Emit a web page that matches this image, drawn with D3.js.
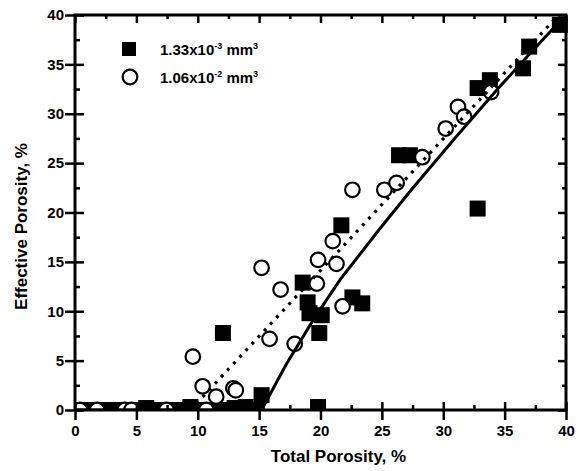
<!DOCTYPE html>
<html>
<head>
<meta charset="utf-8">
<script src="https://cdn.jsdelivr.net/npm/d3@7"></script>
<style>
  body { margin: 0; background: #fff; }
  text { font-family: "Liberation Sans", Arial, sans-serif; font-weight: bold; fill: #000; }
</style>
</head>
<body>
<div id="chart"></div>
<script>
// tick values
var xTicks = [0, 5, 10, 15, 20, 25, 30, 35, 40];
var yTicks = [0, 5, 10, 15, 20, 25, 30, 35, 40];
var minorTicks = [2.5, 7.5, 12.5, 17.5, 22.5, 27.5, 32.5, 37.5];

// 1.33x10^-3 mm^3 (filled squares)
var smallX = [0.4, 1.3, 2.2, 3.1, 4.0, 4.9, 5.8, 6.7, 7.6, 8.5, 9.4, 10.3, 11.2, 12.1, 13.0, 13.9, 14.8,
              15.2, 12.05, 18.55, 18.95, 19.1, 20.1, 19.9, 19.8, 22.6, 23.4, 21.7, 26.4, 27.3, 32.8, 32.8, 33.8, 36.5, 37.0, 39.5];
var smallY = [0, 0, 0, 0, 0, 0, 0.2, 0, 0, 0, 0.3, 0, 0, 0, 0.2, 0.3, 0,
              1.5, 7.8, 12.9, 10.9, 9.8, 9.6, 7.8, 0.3, 11.4, 10.8, 18.7, 25.8, 25.8, 20.4, 32.6, 33.4, 34.6, 36.8, 39.0];

// 1.06x10^-2 mm^3 (open circles)
var largeX = [0.4, 1.8, 4.05, 4.6, 7.45, 10.7,
              9.6, 10.4, 11.5, 12.9, 13.1, 15.2, 15.85, 16.75, 17.9, 19.7, 19.8, 21.0, 21.3, 21.8,
              22.6, 25.2, 26.2, 28.3, 30.2, 31.2, 31.7, 33.9];
var largeY = [0, 0, 0, 0, 0, 0,
              5.4, 2.4, 1.35, 2.2, 2.0, 14.4, 7.2, 12.2, 6.7, 12.8, 15.2, 17.1, 14.8, 10.5,
              22.3, 22.3, 23.0, 25.6, 28.5, 30.7, 29.7, 32.2];

// fitted curves
var solidX = [0, 15.2, 17.2, 19.5, 21.6, 24.8, 27.4, 31.0, 34.5, 37.8, 39.6];
var solidY = [0, 0, 4.6, 9.3, 13.2, 18.3, 22.3, 27.6, 32.6, 37.1, 39.5];
var dottedX = [9.4, 39.4];
var dottedY = [0, 40];

var legendLabels = [["1.33x10", "-3", " mm", "3"], ["1.06x10", "-2", " mm", "3"]];

var margin = {top: 15, right: 12, bottom: 61, left: 75},
  width = 578 - margin.left - margin.right,
  height = 471 - margin.top - margin.bottom;

var svg = d3.select("#chart")
  .append("svg")
    .attr("width", 578)
    .attr("height", 471)
  .append("g")
    .attr("transform", "translate(" + margin.left + "," + margin.top + ")");

var x = d3.scaleLinear().domain([0, 40]).range([0, width]);
var y = d3.scaleLinear().domain([0, 40]).range([height, 0]);

svg.append("clipPath").attr("id", "clip")
  .append("rect")
    .attr("x", 0).attr("y", -20)
    .attr("width", width + 12).attr("height", height + 20);

var plot = svg.append("g").attr("clip-path", "url(#clip)");

// squares
var sq = 16;
plot.selectAll(".sq")
  .data(d3.zip(smallX, smallY))
  .enter().append("rect")
    .attr("x", function(d) { return x(d[0]) - sq / 2; })
    .attr("y", function(d) { return y(d[1]) - sq / 2; })
    .attr("width", sq).attr("height", sq)
    .style("fill", "#000");

// circles
plot.selectAll(".ci")
  .data(d3.zip(largeX, largeY))
  .enter().append("circle")
    .attr("cx", function(d) { return x(d[0]); })
    .attr("cy", function(d) { return y(d[1]); })
    .attr("r", 7.3)
    .style("fill", "#fff")
    .style("stroke", "#000")
    .style("stroke-width", 2.2);

var line = d3.line()
  .x(function(d) { return x(d[0]); })
  .y(function(d) { return y(d[1]); });

plot.append("path")
  .datum(d3.zip(dottedX, dottedY))
  .attr("d", line)
  .style("fill", "none").style("stroke", "#000")
  .style("stroke-width", 3.2).style("stroke-dasharray", "3,6");

plot.append("path")
  .datum(d3.zip(solidX, solidY))
  .attr("d", line)
  .style("fill", "none").style("stroke", "#000")
  .style("stroke-width", 3);

// axes
function styleAxis(g) {
  g.select(".domain").remove();
  g.selectAll("line").style("stroke", "#000").style("stroke-width", 2.5);
  g.selectAll("text").style("font-size", "15px").style("font-family", null);
}

var gx = svg.append("g")
  .attr("transform", "translate(0," + height + ")")
  .call(d3.axisBottom(x).tickValues(xTicks).tickSize(10))
  .call(styleAxis);
gx.selectAll("line").attr("y1", -8);
gx.selectAll("text").attr("y", 26).attr("dy", null);

svg.append("g")
  .attr("transform", "translate(0," + height + ")")
  .call(d3.axisBottom(x).tickValues(minorTicks).tickSize(-5).tickFormat(""))
  .call(styleAxis);

var gy = svg.append("g")
  .call(d3.axisLeft(y).tickValues(yTicks).tickSize(10))
  .call(styleAxis);
gy.selectAll("line").attr("x1", 9);
gy.selectAll("text").attr("x", -11);

svg.append("g")
  .call(d3.axisLeft(y).tickValues(minorTicks).tickSize(-5).tickFormat(""))
  .call(styleAxis);

svg.append("g")
  .call(d3.axisTop(x).tickValues(xTicks).tickSize(-8).tickFormat(""))
  .call(styleAxis);
svg.append("g")
  .call(d3.axisTop(x).tickValues(minorTicks).tickSize(-4).tickFormat(""))
  .call(styleAxis);

svg.append("g")
  .attr("transform", "translate(" + width + ",0)")
  .call(d3.axisRight(y).tickValues(yTicks).tickSize(-8).tickFormat(""))
  .call(styleAxis);
svg.append("g")
  .attr("transform", "translate(" + width + ",0)")
  .call(d3.axisRight(y).tickValues(minorTicks).tickSize(-4).tickFormat(""))
  .call(styleAxis);

svg.append("rect")
  .attr("width", width).attr("height", height)
  .style("fill", "none").style("stroke", "#000").style("stroke-width", 3);

// axis titles
svg.append("text")
  .attr("x", width / 2 + 18)
  .attr("y", height + 52)
  .attr("text-anchor", "middle")
  .style("font-size", "17px")
  .text("Total Porosity, %");

svg.append("text")
  .attr("transform", "translate(" + (27 - margin.left) + "," + (height / 2 + 14) + ") rotate(-90)")
  .attr("text-anchor", "middle")
  .style("font-size", "17px")
  .text("Effective Porosity, %");

// legend
var legend = svg.append("g").attr("transform", "translate(" + (129 - margin.left) + "," + (49 - margin.top) + ")");
legend.append("rect")
  .attr("x", -7).attr("y", -7).attr("width", 14).attr("height", 14)
  .style("fill", "#000");
legend.append("circle")
  .attr("cx", 1).attr("cy", 28).attr("r", 7.3)
  .style("fill", "#fff").style("stroke", "#000").style("stroke-width", 2.2);

legendLabels.forEach(function(lab, i) {
  var t = legend.append("text")
    .attr("x", 31).attr("y", 6 + i * 28)
    .style("font-size", "15px");
  t.append("tspan").text(lab[0]);
  t.append("tspan").attr("dy", -6).style("font-size", "9px").text(lab[1]);
  t.append("tspan").attr("dy", 6).text(lab[2]);
  t.append("tspan").attr("dy", -6).style("font-size", "9px").text(lab[3]);
});
</script>
</body>
</html>
